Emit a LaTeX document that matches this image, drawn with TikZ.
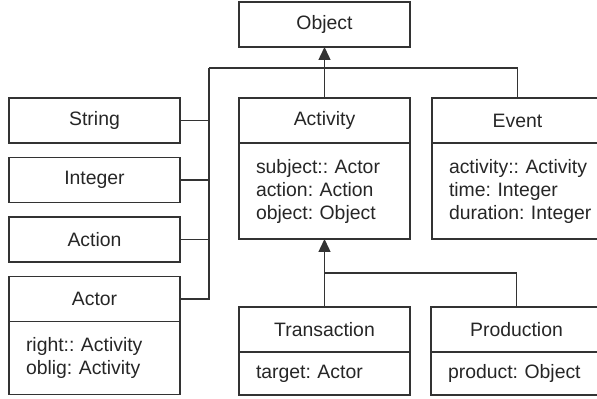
\documentclass[tikz,border=0pt]{standalone}
\usepackage{fontspec}
\setmainfont{Liberation Sans}
\usetikzlibrary{arrows.meta,positioning}
\hyphenpenalty=10000
\exhyphenpenalty=10000

\begin{document}
\begin{tikzpicture}[
    x=0.5pt, y=-0.5pt,
    font=\fontsize{9.7}{11.5}\selectfont\frenchspacing,
    cls/.style={rectangle, draw=black!80, line width=0.7pt, outer sep=0pt, inner sep=0pt, minimum width=85.5pt, minimum height=22.5pt, text centered, text=black!85},
    attr/.style={rectangle, draw=black!80, line width=0.7pt, outer sep=0pt, inner xsep=8.5pt, inner ysep=0pt, text width=68.5pt, align=left, text=black!85},
    link/.style={draw=black!80, line width=0.7pt},
    arrow/.style={link, -{Triangle[length=6.5pt,width=6pt]}}
]
\useasboundingbox (0,0) rectangle (597,399);

% Root class
\node[cls] (object) at (324.5,24.5) {Object};

% Activity and Event
\node[cls, below=25.5pt of object] (activity) {Activity};
\node[attr, minimum height=48pt, below=0pt of activity] (activityattr) {subject:: Actor\\action: Action\\object: Object};

\node[cls, right=11pt of activity] (event) {Event};
\node[attr, minimum height=48pt, below=0pt of event] (eventattr) {activity::~Activity\\time: Integer\\duration:~Integer};

% Basic types
\node[cls, anchor=north west] (string) at (9,98) {String};
\node[cls, below=7.25pt of string] (integer) {Integer};
\node[cls, below=7.25pt of integer] (action) {Action};
\node[cls, below=7.25pt of action] (actor) {Actor};
\node[attr, minimum height=36.5pt, below=0pt of actor] (actorattr) {right:: Activity\\oblig: Activity};

% Subclasses of Activity
\node[cls, below=34pt of activityattr] (transaction) {Transaction};
\node[attr, minimum height=21.5pt, below=0pt of transaction] (transactionattr) {target: Actor};

\node[cls, right=10.5pt of transaction] (production) {Production};
\node[attr, minimum height=21.5pt, below=0pt of production] (productionattr) {product: Object};

% Junction points
\coordinate (bus) at (209,68);
\coordinate (split) at (324.5,273);

% Arrows
\draw[arrow] (activity) -- (object);
\draw[link] (event.north) |- (bus);
\draw[link] (string.east) -| (bus);
\draw[link] (integer.east) -| (bus);
\draw[link] (action.east) -| (bus);
\draw[link] (actor.east) -| (bus);

\draw[arrow] (transaction) -- (activityattr);
\draw[link] (production.north) |- (split);

\end{tikzpicture}
\end{document}
